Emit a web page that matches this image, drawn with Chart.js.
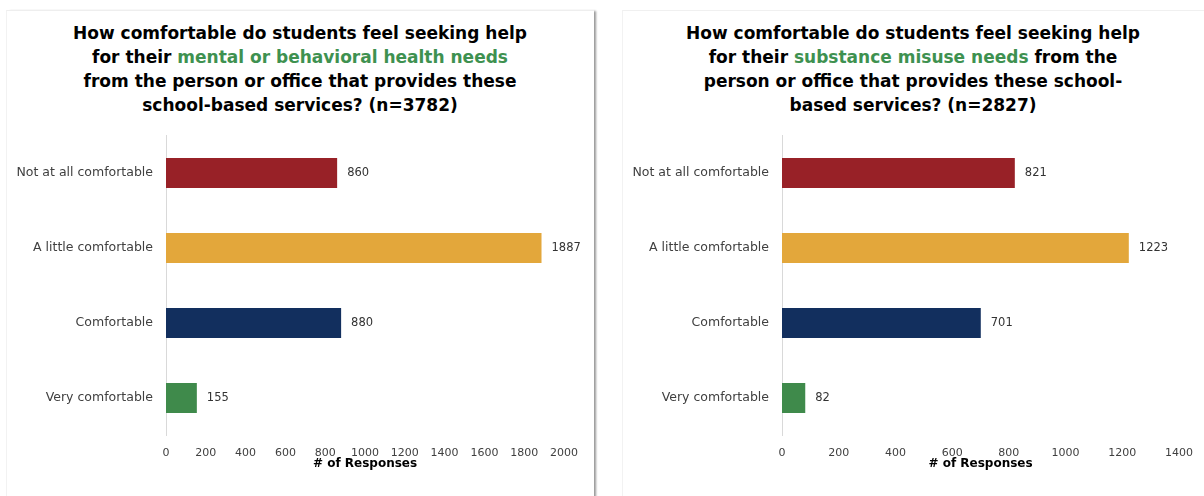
<!DOCTYPE html>
<html>
<head>
<meta charset="utf-8">
<script src="https://cdn.jsdelivr.net/npm/chart.js@4"></script>
<style>
  html, body { margin: 0; padding: 0; background: #fff; }
  body { width: 1204px; height: 496px; position: relative; overflow: hidden;
         font-family: "Century Gothic", "DejaVu Sans", sans-serif; }
  .panel { position: absolute; top: 10px; height: 500px; background: #fff; }
  #panelLeft { left: 6px; width: 587px; border-top: 1px solid #eeeeee; border-left: 1px solid #f2f2f2;
               box-shadow: 3px 0 2px -1px #9a9a9a; }
  #panelRight { left: 622px; width: 590px; border-top: 1px solid #f0f0f0; border-left: 1px solid #f2f2f2; }
  .title { position: absolute; top: 21px; font-size: 17px; font-weight: bold; line-height: 24px;
           text-align: center; color: #000; }
  .title .hl { color: #3e9150; }
  #titleLeft { left: 6px; width: 588px; }
  #titleRight { left: 622px; width: 582px; }
  .box { position: absolute; top: 115px; height: 360px; }
  #boxLeft { left: 0; width: 594px; }
  #boxRight { left: 600px; width: 604px; }
</style>
</head>
<body>
<div class="panel" id="panelLeft"></div>
<div class="panel" id="panelRight"></div>
<div class="title" id="titleLeft">How comfortable do students feel seeking help<br>for their <span class="hl">mental or behavioral health needs</span><br>from the person or office that provides these<br>school-based services? (n=3782)</div>
<div class="title" id="titleRight">How comfortable do students feel seeking help<br>for their <span class="hl">substance misuse needs</span> from the<br>person or office that provides these school-<br>based services? (n=2827)</div>
<div class="box" id="boxLeft"><canvas id="mentalChart"></canvas></div>
<div class="box" id="boxRight"><canvas id="substanceChart"></canvas></div>

<script>
const categories = ['Not at all comfortable', 'A little comfortable', 'Comfortable', 'Very comfortable'];
const mentalCounts = [860, 1887, 880, 155];
const substanceCounts = [821, 1223, 701, 82];
const mentalAxisMax = 2000;
const substanceAxisMax = 1400;
const axisStep = 200;
const barColors = ['#982127', '#e3a73b', '#122f5e', '#3f8a4b'];

const fontFamily = '"Century Gothic", "DejaVu Sans", sans-serif';

// writes the count just past the end of each bar
const valueLabels = {
  id: 'valueLabels',
  afterDatasetsDraw(chart) {
    const ctx = chart.ctx;
    const meta = chart.getDatasetMeta(0);
    const values = chart.data.datasets[0].data;
    ctx.save();
    ctx.font = '11.5px ' + fontFamily;
    ctx.fillStyle = '#333';
    ctx.textAlign = 'left';
    ctx.textBaseline = 'middle';
    meta.data.forEach(function(bar, i) {
      ctx.fillText(values[i], bar.x + 10, bar.y);
    });
    ctx.restore();
  }
};

function makeChart(canvasId, counts, axisMax, axisWidth, rightPad) {
  return new Chart(document.getElementById(canvasId), {
    type: 'bar',
    data: {
      labels: categories,
      datasets: [{
        data: counts,
        backgroundColor: barColors,
        borderWidth: 0,
        barPercentage: 0.4,
        categoryPercentage: 1
      }]
    },
    options: {
      indexAxis: 'y',
      responsive: true,
      maintainAspectRatio: false,
      animation: false,
      layout: { padding: { top: 8, right: rightPad, bottom: 4, left: 0 } },
      plugins: { legend: { display: false }, tooltip: { enabled: false } },
      scales: {
        y: {
          grid: { display: false, drawTicks: false },
          border: { display: true, color: '#d9d9d9', width: 1 },
          ticks: { color: '#404040', padding: 13, font: { family: fontFamily, size: 12.5 } },
          afterFit: function(scale) { scale.width = axisWidth; }
        },
        x: {
          min: 0,
          max: axisMax,
          grid: { display: false, drawTicks: false },
          border: { display: false },
          ticks: {
            stepSize: axisStep,
            color: '#404040',
            padding: 11,
            font: { family: fontFamily, size: 11 },
            callback: function(v) { return String(v); }
          },
          title: {
            display: true,
            text: '# of Responses',
            color: '#000',
            padding: { top: -14, bottom: 0 },
            font: { family: fontFamily, size: 12, weight: 'bold' }
          }
        }
      }
    },
    plugins: [valueLabels]
  });
}

makeChart('mentalChart', mentalCounts, mentalAxisMax, 166, 30);
makeChart('substanceChart', substanceCounts, substanceAxisMax, 182, 21);
</script>
</body>
</html>
